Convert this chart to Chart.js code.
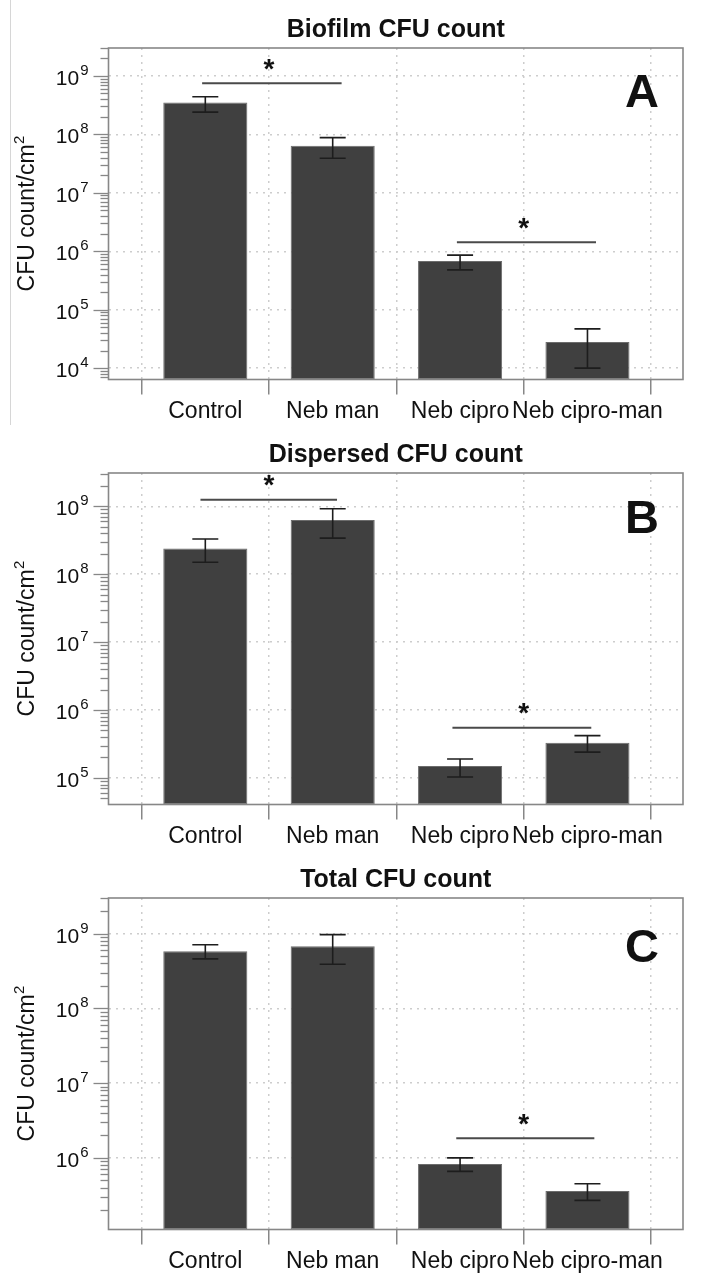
<!DOCTYPE html>
<html>
<head>
<meta charset="utf-8">
<script src="https://cdn.jsdelivr.net/npm/chart.js@4/dist/chart.umd.min.js"></script>
<style>
  body { margin: 0; background: #fff; }
  .panel { position: absolute; left: 0; width: 704px; height: 425px; }
</style>
</head>
<body>
<div class="panel" style="top:0"><canvas id="panel-a" width="704" height="425"></canvas></div>
<div class="panel" style="top:425px"><canvas id="panel-b" width="704" height="425"></canvas></div>
<div class="panel" style="top:850px"><canvas id="panel-c" width="704" height="425"></canvas></div>
<script>
// ─── Data ─────────────────────────────────────────────────────────────────────

const categories = ["Control", "Neb man", "Neb cipro", "Neb cipro-man"];
const xTicks = [0, 1, 2, 3, 4];

// Biofilm CFU count (A)
const biofilmMean = [3.5e8, 6.4e7, 6.8e5, 2.8e4];
const biofilmLow = [2.4e8, 3.9e7, 4.8e5, 1.0e4];
const biofilmHigh = [4.4e8, 8.8e7, 8.6e5, 4.7e4];
const biofilmSigFrom = [0.475, 2.475];
const biofilmSigTo = [1.57, 3.567];
const biofilmSigAt = [7.5e8, 1.42e6];

// Dispersed CFU count (B)
const dispersedMean = [2.4e8, 6.3e8, 1.5e5, 3.3e5];
const dispersedLow = [1.5e8, 3.4e8, 1.03e5, 2.4e5];
const dispersedHigh = [3.3e8, 9.2e8, 1.9e5, 4.2e5];
const dispersedSigFrom = [0.462, 2.44];
const dispersedSigTo = [1.534, 3.53];
const dispersedSigAt = [1.25e9, 5.46e5];

// Total CFU count (C)
const totalMean = [5.8e8, 6.8e8, 8.3e5, 3.6e5];
const totalLow = [4.6e8, 3.9e8, 6.6e5, 2.7e5];
const totalHigh = [7.1e8, 9.7e8, 1.0e6, 4.5e5];
const totalSigFrom = [2.47];
const totalSigTo = [3.554];
const totalSigAt = [1.83e6];

const sigStarX = [1, 3];

const FONT = '"Liberation Sans", Arial, Helvetica, sans-serif';
const FRAME = "#878787";

// ─── Drawing helpers ──────────────────────────────────────────────────────────

function drawPower(ctx, right, y, exp) {
  ctx.fillStyle = "#111";
  ctx.textBaseline = "alphabetic";
  ctx.font = `15px ${FONT}`;
  const sup = String(exp);
  const sw = ctx.measureText(sup).width;
  ctx.textAlign = "left";
  ctx.fillText(sup, right - sw, y - 2);
  ctx.font = `21px ${FONT}`;
  ctx.textAlign = "right";
  ctx.fillText("10", right - sw - 1, y + 8);
}

const panelDecor = {
  id: "panelDecor",
  afterDatasetsDraw(chart, args, opts) {
    const { ctx } = chart;
    const xs = chart.scales.x;
    const ys = chart.scales.y;

    // error bars
    ctx.save();
    ctx.strokeStyle = "#1d1d1d";
    ctx.lineWidth = 1.6;
    opts.low.forEach((lo, i) => {
      const x = xs.getPixelForValue(i + 0.5);
      const y0 = ys.getPixelForValue(lo);
      const y1 = ys.getPixelForValue(opts.high[i]);
      ctx.beginPath();
      ctx.moveTo(x, y0); ctx.lineTo(x, y1);
      ctx.moveTo(x - 13, y0); ctx.lineTo(x + 13, y0);
      ctx.moveTo(x - 13, y1); ctx.lineTo(x + 13, y1);
      ctx.stroke();
    });

    // significance bars + stars
    ctx.strokeStyle = "#4a4a4a";
    ctx.lineWidth = 2;
    ctx.fillStyle = "#111";
    ctx.font = `bold 28px ${FONT}`;
    ctx.textAlign = "center";
    ctx.textBaseline = "alphabetic";
    const m = ctx.measureText("*");
    opts.sigAt.forEach((v, i) => {
      const y = ys.getPixelForValue(v);
      ctx.beginPath();
      ctx.moveTo(xs.getPixelForValue(opts.sigFrom[i]), y);
      ctx.lineTo(xs.getPixelForValue(opts.sigTo[i]), y);
      ctx.stroke();
      const cx = xs.getPixelForValue(opts.starX[i]);
      const cy = y - 19;
      ctx.fillText("*", cx, cy + (m.actualBoundingBoxAscent - m.actualBoundingBoxDescent) / 2);
    });
    ctx.restore();
  },
  afterDraw(chart, args, opts) {
    const { ctx, chartArea: a } = chart;
    const xs = chart.scales.x;
    const ys = chart.scales.y;
    ctx.save();

    if (opts.edgeLine) {
      ctx.strokeStyle = "#d6d6d6";
      ctx.lineWidth = 1;
      ctx.beginPath();
      ctx.moveTo(10.5, 0); ctx.lineTo(10.5, 425);
      ctx.stroke();
    }

    // frame
    ctx.strokeStyle = FRAME;
    ctx.lineWidth = 1.6;
    ctx.strokeRect(a.left, a.top, a.right - a.left, a.bottom - a.top);

    // log ticks on y, major + minor
    ctx.lineWidth = 1.3;
    const lo = Math.floor(Math.log10(ys.min));
    const hi = Math.ceil(Math.log10(ys.max));
    for (let e = lo; e <= hi; e++) {
      for (let k = 1; k <= 9; k++) {
        const v = k * Math.pow(10, e);
        if (v < ys.min * 0.999 || v > ys.max * 1.001) continue;
        const y = Math.round(ys.getPixelForValue(v)) + 0.5;
        ctx.beginPath();
        ctx.moveTo(a.left - (k === 1 ? 15 : 8), y);
        ctx.lineTo(a.left, y);
        ctx.stroke();
        if (k === 1) drawPower(ctx, 88.5, y, e);
      }
    }

    // category labels
    ctx.fillStyle = "#111";
    ctx.font = `23px ${FONT}`;
    ctx.textAlign = "center";
    ctx.textBaseline = "alphabetic";
    categories.forEach((c, i) => {
      ctx.fillText(c, xs.getPixelForValue(i + 0.5), a.bottom + 38);
    });

    // title
    ctx.font = `bold 25px ${FONT}`;
    ctx.fillText(opts.title, (a.left + a.right) / 2, 37);

    // panel letter
    ctx.font = `bold 47px ${FONT}`;
    ctx.fillText(opts.letter, 642, opts.letterY);

    // y axis title
    ctx.translate(34, (a.top + a.bottom) / 2);
    ctx.rotate(-Math.PI / 2);
    ctx.font = `23px ${FONT}`;
    const main = "CFU count/cm";
    const w1 = ctx.measureText(main).width;
    ctx.font = `15px ${FONT}`;
    const w2 = ctx.measureText("2").width;
    const x0 = -(w1 + w2) / 2;
    ctx.textAlign = "left";
    ctx.font = `23px ${FONT}`;
    ctx.fillText(main, x0, 0);
    ctx.font = `15px ${FONT}`;
    ctx.fillText("2", x0 + w1 + 0.5, -10);
    ctx.restore();
  },
};

// ─── Panels ───────────────────────────────────────────────────────────────────

function renderPanel(id, cfg) {
  const canvas = document.getElementById(id);
  const decades = [];
  for (let e = Math.ceil(Math.log10(cfg.min)); e <= Math.floor(Math.log10(cfg.max)); e++) {
    decades.push(Math.pow(10, e));
  }

  return new Chart(canvas, {
    type: "bar",
    data: {
      datasets: [
        {
          data: cfg.mean.map((v, i) => ({ x: i + 0.5, y: v })),
          backgroundColor: "#404040",
          borderColor: "#6c6c6c",
          borderWidth: 1,
          borderSkipped: false,
          categoryPercentage: 1,
          barPercentage: 0.66,
        },
      ],
    },
    options: {
      responsive: false,
      animation: false,
      devicePixelRatio: 1,
      layout: { padding: { top: 48, right: 21, left: 0, bottom: 0 } },
      plugins: {
        legend: { display: false },
        tooltip: { enabled: false },
        panelDecor: {
          title: cfg.title,
          letter: cfg.letter,
          letterY: cfg.letterY,
          low: cfg.low,
          high: cfg.high,
          sigFrom: cfg.sigFrom,
          sigTo: cfg.sigTo,
          sigAt: cfg.sigAt,
          starX: sigStarX.slice(-cfg.sigAt.length),
          edgeLine: !!cfg.edgeLine,
        },
      },
      scales: {
        x: {
          type: "linear",
          min: -0.26,
          max: 4.25,
          offset: false,
          afterBuildTicks: (s) => { s.ticks = xTicks.map((v) => ({ value: v })); },
          afterFit: (s) => { s.height = 45.5; },
          ticks: { display: false },
          grid: {
            offset: false,
            color: "#cdcdcd",
            lineWidth: 1.5,
            tickLength: 15,
            tickColor: FRAME,
            tickWidth: 1.5,
            tickBorderDash: [],
          },
          border: { display: false, dash: [2, 5] },
        },
        y: {
          type: "logarithmic",
          min: cfg.min,
          max: cfg.max,
          afterBuildTicks: (s) => { s.ticks = decades.map((v) => ({ value: v })); },
          afterFit: (s) => { s.width = 108.5; },
          ticks: { display: false },
          grid: { drawTicks: false, color: "#cdcdcd", lineWidth: 1.5 },
          border: { display: false, dash: [2, 5] },
        },
      },
    },
    plugins: [panelDecor],
  });
}

renderPanel("panel-a", {
  title: "Biofilm CFU count", letter: "A", letterY: 107, edgeLine: true,
  min: 6.4e3, max: 3.0e9,
  mean: biofilmMean, low: biofilmLow, high: biofilmHigh,
  sigFrom: biofilmSigFrom, sigTo: biofilmSigTo, sigAt: biofilmSigAt,
});

renderPanel("panel-b", {
  title: "Dispersed CFU count", letter: "B", letterY: 108,
  min: 4.06e4, max: 3.1e9,
  mean: dispersedMean, low: dispersedLow, high: dispersedHigh,
  sigFrom: dispersedSigFrom, sigTo: dispersedSigTo, sigAt: dispersedSigAt,
});

renderPanel("panel-c", {
  title: "Total CFU count", letter: "C", letterY: 112,
  min: 1.1e5, max: 3.0e9,
  mean: totalMean, low: totalLow, high: totalHigh,
  sigFrom: totalSigFrom, sigTo: totalSigTo, sigAt: totalSigAt,
});
</script>
</body>
</html>
